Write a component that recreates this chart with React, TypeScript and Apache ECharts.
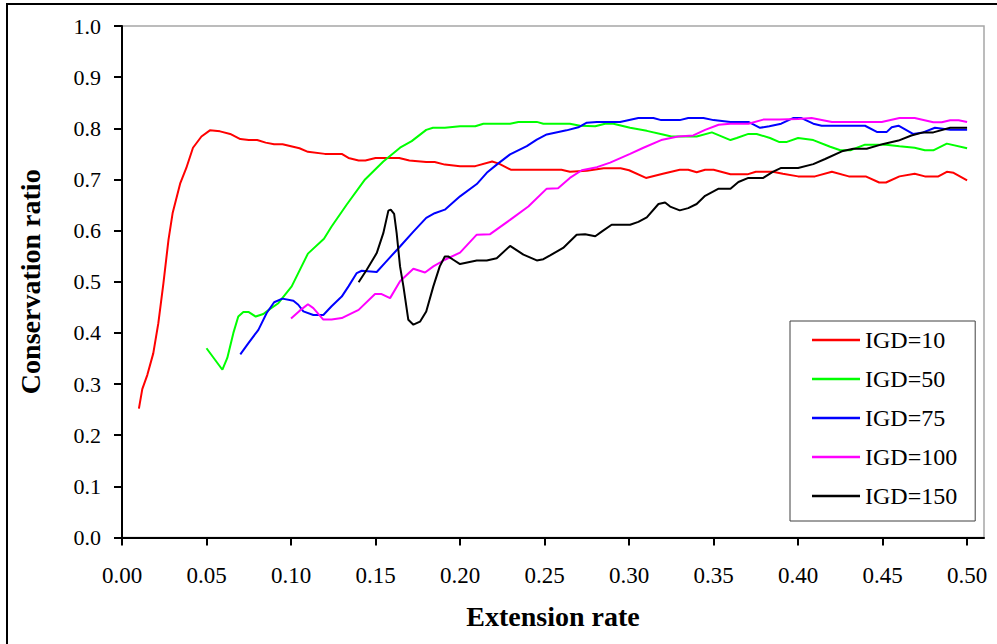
import React, { useEffect, useRef } from "react";
import * as echarts from "echarts";

const SERIES_NAMES = ["IGD=10", "IGD=50", "IGD=75", "IGD=100", "IGD=150"];
const SERIES_COLORS = ["#ff0000", "#00ff00", "#0000ff", "#ff00ff", "#000000"];

const X_TICKS = [0, 0.05, 0.1, 0.15, 0.2, 0.25, 0.3, 0.35, 0.4, 0.45, 0.5];

const igd10: [number, number][] = [
  [0.010, 0.252], [0.012, 0.29], [0.015, 0.318], [0.0185, 0.36], [0.0215, 0.419], [0.0245, 0.497],
  [0.0275, 0.582], [0.030, 0.635], [0.0345, 0.693], [0.038, 0.722], [0.042, 0.762], [0.047, 0.784],
  [0.052, 0.796], [0.058, 0.794], [0.064, 0.789], [0.070, 0.779], [0.075, 0.777], [0.080, 0.777],
  [0.085, 0.772], [0.090, 0.769], [0.095, 0.769], [0.100, 0.765], [0.105, 0.761], [0.110, 0.754],
  [0.120, 0.750], [0.130, 0.750], [0.134, 0.742], [0.140, 0.737], [0.144, 0.737], [0.150, 0.742],
  [0.164, 0.742], [0.170, 0.737], [0.180, 0.734], [0.185, 0.734], [0.191, 0.729], [0.200, 0.726],
  [0.209, 0.726], [0.219, 0.735], [0.223, 0.731], [0.230, 0.719], [0.260, 0.719], [0.265, 0.715],
  [0.275, 0.717], [0.285, 0.722], [0.295, 0.722], [0.300, 0.718], [0.310, 0.703], [0.320, 0.711],
  [0.330, 0.719], [0.335, 0.719], [0.340, 0.714], [0.345, 0.719], [0.350, 0.719], [0.360, 0.710],
  [0.370, 0.710], [0.375, 0.715], [0.385, 0.715], [0.391, 0.711], [0.400, 0.706], [0.410, 0.706],
  [0.420, 0.715], [0.430, 0.706], [0.440, 0.706], [0.448, 0.694], [0.452, 0.694], [0.460, 0.706],
  [0.469, 0.711], [0.475, 0.706], [0.483, 0.706], [0.488, 0.715], [0.492, 0.713], [0.500, 0.698],
];

const igd50: [number, number][] = [
  [0.050, 0.370], [0.0594, 0.328], [0.0623, 0.351], [0.0659, 0.400], [0.0688, 0.432], [0.0718, 0.441],
  [0.0748, 0.441], [0.0791, 0.432], [0.0836, 0.437], [0.0876, 0.447], [0.0925, 0.458], [0.1004, 0.491],
  [0.110, 0.555], [0.1195, 0.584], [0.124, 0.608], [0.133, 0.651], [0.1438, 0.700], [0.1546, 0.735],
  [0.1645, 0.762], [0.1714, 0.775], [0.180, 0.797], [0.184, 0.801], [0.191, 0.801], [0.200, 0.804],
  [0.209, 0.804], [0.2138, 0.809], [0.2296, 0.809], [0.2345, 0.8125], [0.2454, 0.8125], [0.2493, 0.809],
  [0.265, 0.809], [0.271, 0.805], [0.280, 0.804], [0.2858, 0.809], [0.2907, 0.809], [0.3006, 0.801],
  [0.3105, 0.795], [0.320, 0.788], [0.325, 0.784], [0.340, 0.784], [0.349, 0.792], [0.360, 0.777],
  [0.3637, 0.781], [0.3706, 0.789], [0.3755, 0.789], [0.3834, 0.781], [0.389, 0.773], [0.393, 0.773],
  [0.400, 0.781], [0.409, 0.777], [0.419, 0.764], [0.425, 0.757], [0.431, 0.757], [0.4396, 0.768],
  [0.452, 0.768], [0.460, 0.765], [0.469, 0.762], [0.475, 0.757], [0.480, 0.757], [0.488, 0.770],
  [0.500, 0.761],
];

const igd75: [number, number][] = [
  [0.070, 0.358], [0.0748, 0.380], [0.0807, 0.406], [0.0856, 0.439], [0.090, 0.460], [0.0949, 0.467],
  [0.1014, 0.463], [0.1043, 0.455], [0.1073, 0.442], [0.1132, 0.435], [0.1191, 0.435], [0.124, 0.452],
  [0.130, 0.471], [0.134, 0.491], [0.1389, 0.517], [0.1418, 0.5215], [0.1507, 0.519], [0.1556, 0.537],
  [0.1645, 0.569], [0.1724, 0.598], [0.180, 0.625], [0.185, 0.634], [0.191, 0.641], [0.200, 0.667],
  [0.2099, 0.691], [0.2158, 0.713], [0.2217, 0.729], [0.2296, 0.749], [0.2395, 0.765], [0.2454, 0.778],
  [0.2513, 0.788], [0.263, 0.796], [0.270, 0.802], [0.275, 0.811], [0.281, 0.8125], [0.2947, 0.8125],
  [0.3055, 0.820], [0.3144, 0.820], [0.319, 0.816], [0.330, 0.816], [0.335, 0.820], [0.344, 0.820],
  [0.350, 0.816], [0.360, 0.8125], [0.3706, 0.8125], [0.3775, 0.801], [0.383, 0.804], [0.390, 0.809],
  [0.397, 0.820], [0.402, 0.820], [0.409, 0.809], [0.414, 0.805], [0.4396, 0.805], [0.4466, 0.793],
  [0.4525, 0.793], [0.4554, 0.802], [0.4594, 0.805], [0.468, 0.789], [0.474, 0.792], [0.481, 0.801],
  [0.490, 0.797], [0.500, 0.797],
];

const igd100: [number, number][] = [
  [0.100, 0.428], [0.105, 0.443], [0.110, 0.456], [0.1132, 0.4485], [0.1191, 0.426], [0.124, 0.426],
  [0.130, 0.429], [0.140, 0.445], [0.1497, 0.476], [0.1536, 0.476], [0.1586, 0.468], [0.1645, 0.501],
  [0.1724, 0.5255], [0.1793, 0.518], [0.1842, 0.530], [0.191, 0.543], [0.200, 0.557], [0.2099, 0.592],
  [0.2178, 0.593], [0.2296, 0.621], [0.2404, 0.647], [0.2513, 0.682], [0.258, 0.683], [0.265, 0.703],
  [0.272, 0.718], [0.281, 0.724], [0.2888, 0.733], [0.3006, 0.750], [0.3085, 0.762], [0.319, 0.777],
  [0.329, 0.784], [0.338, 0.786], [0.345, 0.797], [0.353, 0.807], [0.360, 0.809], [0.3706, 0.809],
  [0.3794, 0.817], [0.389, 0.817], [0.400, 0.818], [0.408, 0.820], [0.420, 0.8125], [0.4495, 0.8125],
  [0.460, 0.820], [0.469, 0.820], [0.480, 0.812], [0.485, 0.812], [0.490, 0.8157], [0.495, 0.8157],
  [0.500, 0.8125],
];

const igd150: [number, number][] = [
  [0.140, 0.499], [0.1448, 0.5235], [0.1507, 0.556], [0.1546, 0.595], [0.1576, 0.639], [0.159, 0.641],
  [0.161, 0.6325], [0.1625, 0.595], [0.1645, 0.530], [0.1665, 0.491], [0.1694, 0.4256], [0.1724, 0.416],
  [0.1763, 0.422], [0.180, 0.442], [0.1842, 0.491], [0.188, 0.530], [0.191, 0.5495], [0.193, 0.5495],
  [0.196, 0.543], [0.200, 0.5346], [0.2099, 0.5417], [0.2158, 0.5417], [0.2217, 0.546], [0.2296, 0.570],
  [0.2375, 0.553], [0.2454, 0.5417], [0.2493, 0.544], [0.2533, 0.5515], [0.261, 0.566], [0.269, 0.592],
  [0.274, 0.593], [0.280, 0.589], [0.2838, 0.598], [0.2897, 0.6115], [0.3006, 0.6115], [0.3055, 0.617],
  [0.3105, 0.626], [0.3174, 0.652], [0.3213, 0.655], [0.3243, 0.647], [0.330, 0.6395], [0.335, 0.644],
  [0.340, 0.652], [0.345, 0.668], [0.353, 0.682], [0.360, 0.682], [0.3647, 0.695], [0.3706, 0.703],
  [0.3794, 0.703], [0.385, 0.7147], [0.390, 0.7225], [0.400, 0.7225], [0.409, 0.730], [0.416, 0.740],
  [0.4259, 0.755], [0.4327, 0.760], [0.4406, 0.760], [0.4505, 0.7695], [0.4594, 0.776], [0.467, 0.786],
  [0.474, 0.792], [0.480, 0.792], [0.490, 0.801], [0.500, 0.801],
];

const SERIES_DATA = [igd10, igd50, igd75, igd100, igd150];

const FONT = "'Liberation Serif', 'Times New Roman', serif";

export default function App() {
  const ref = useRef<HTMLDivElement>(null);

  useEffect(() => {
    document.body.style.margin = "0";
    if (!ref.current) return;
    const chart = echarts.init(ref.current, undefined, { renderer: "svg" });
    chart.setOption({
      animation: false,
      backgroundColor: "#ffffff",
      textStyle: { fontFamily: FONT },
      grid: {
        left: 122,
        top: 26,
        width: 862,
        height: 511.5,
        show: true,
        borderColor: "#a6a6a6",
        borderWidth: 1.5,
        backgroundColor: "#ffffff",
      },
      legend: {
        orient: "vertical",
        left: 790,
        top: 321,
        backgroundColor: "#ffffff",
        borderColor: "#404040",
        borderWidth: 1,
        borderRadius: 0,
        padding: [7, 18, 13, 22],
        itemGap: 15,
        itemWidth: 48,
        itemHeight: 2.5,
        icon: "rect",
        textStyle: { fontFamily: FONT, fontSize: 24, color: "#000", lineHeight: 24 },
        data: SERIES_NAMES,
      },
      xAxis: {
        type: "value",
        min: 0,
        max: 0.51,
        interval: 0.05,
        name: "Extension rate",
        nameLocation: "middle",
        nameGap: 65,
        nameTextStyle: { fontFamily: FONT, fontSize: 28, fontWeight: "bold", color: "#000" },
        axisLine: { show: true, onZero: false, lineStyle: { color: "#000", width: 2 } },
        axisTick: { show: true, length: 8, lineStyle: { color: "#000", width: 2 }, customValues: X_TICKS },
        axisLabel: {
          fontFamily: FONT,
          fontSize: 23,
          color: "#000",
          margin: 26,
          customValues: X_TICKS,
          formatter: (v: number) => v.toFixed(2),
        },
        splitLine: { show: false },
      },
      yAxis: {
        type: "value",
        min: 0,
        max: 1,
        interval: 0.1,
        name: "Conservation ratio",
        nameLocation: "middle",
        nameGap: 78,
        nameTextStyle: { fontFamily: FONT, fontSize: 28, fontWeight: "bold", color: "#000" },
        axisLine: { show: true, lineStyle: { color: "#000", width: 2 } },
        axisTick: { show: true, length: 8, lineStyle: { color: "#000", width: 2 } },
        axisLabel: {
          fontFamily: FONT,
          fontSize: 22,
          color: "#000",
          margin: 21,
          formatter: (v: number) => v.toFixed(1),
        },
        splitLine: { show: false },
      },
      graphic: [
        {
          type: "rect",
          shape: { x: 7, y: 4, width: 1100, height: 800 },
          style: { fill: "none", stroke: "#000", lineWidth: 2 },
          silent: true,
          z: 100,
        },
      ],
      series: SERIES_NAMES.map((name, i) => ({
        name,
        type: "line",
        data: SERIES_DATA[i],
        symbol: "none",
        showSymbol: false,
        smooth: false,
        lineStyle: { color: SERIES_COLORS[i], width: 2 },
        itemStyle: { color: SERIES_COLORS[i] },
      })),
    });
    return () => chart.dispose();
  }, []);

  return <div ref={ref} style={{ width: 997, height: 644 }} />;
}
